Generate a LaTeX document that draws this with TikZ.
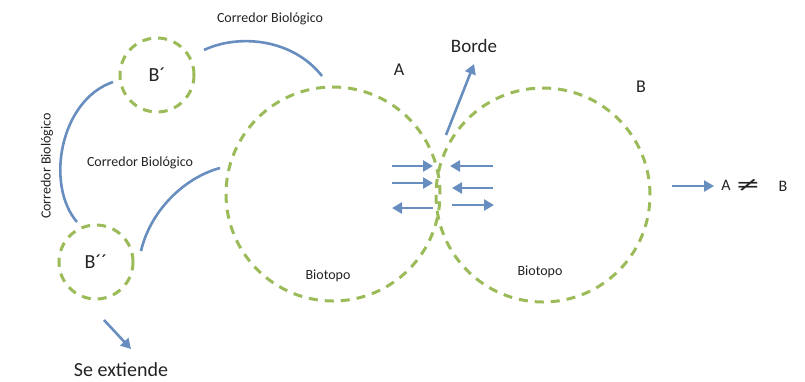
\documentclass[tikz,border=0pt]{standalone}
\usepackage{fontspec}
\usepackage{graphicx}
\setmainfont{Carlito}
\newfontfamily\symfont{DejaVu Sans}
\usetikzlibrary{arrows.meta}
\definecolor{habitat}{RGB}{155,187,89}
\definecolor{link}{RGB}{104,142,192}
\definecolor{ink}{RGB}{35,35,35}
\tikzset{
  habitat/.style={circle, draw=habitat, line width=3pt, dash pattern=on 9pt off 7pt, inner sep=0pt},
  corridor/.style={draw=link, line width=2.6pt},
  flow/.style={draw=link, line width=2.6pt, -{Triangle[length=10pt,width=11pt]}},
  small/.style={text=ink, font=\fontsize{14}{16}\selectfont},
  mid/.style={text=ink, font=\fontsize{18}{20}\selectfont},
  big/.style={text=ink, font=\fontsize{20}{22}\selectfont},
}
\begin{document}
\begin{tikzpicture}[x=1pt, y=-1pt]
\useasboundingbox (0,0) rectangle (805,381);

% habitats
\node[habitat, minimum size=214pt] (A) at (333,194) {};
\node[habitat, minimum size=214pt] (B) at (543,195) {};
\node[habitat, minimum size=74pt] (Bp) at (157,75) {};
\node[habitat, minimum size=74pt] (Bpp) at (96,262) {};

% habitat names
\node[big] (tBp) at (Bp) {B´};
\node[big] (tBpp) at (Bpp) {B´´};
\node[mid] (tA) at (399,70) {A};
\node[mid] (tB) at (641,87) {B};
\node[small] (bioA) at (328,276) {Biotopo};
\node[small] (bioB) at (540,272) {Biotopo};

% biological corridors
\coordinate (c1s) at (204,50);
\coordinate (c1e) at (322,76);
\coordinate (c2s) at (113,82);
\coordinate (c2e) at (77,222);
\coordinate (c3s) at (220,168);
\coordinate (c3e) at (141,251);
\draw[corridor] (c1s) .. controls (238,34) and (292,38) .. (c1e);
\draw[corridor] (c2s) .. controls (60,100) and (45,185) .. (c2e);
\draw[corridor] (c3s) .. controls (183,178) and (150,212) .. (c3e);
\node[small] (lc1) at (270,19) {Corredor Biológico};
\node[small] (lc2) at (140,163) {Corredor Biológico};
\node[small, rotate=90] (lc3) at (47,166) {Corredor Biológico};

% exchange across the border
\coordinate (l1a) at (392,166); \coordinate (l1b) at (433,166);
\coordinate (l2a) at (392,183); \coordinate (l2b) at (433,183);
\coordinate (l3a) at (433,208); \coordinate (l3b) at (392,208);
\coordinate (r1a) at (493,166); \coordinate (r1b) at (450,166);
\coordinate (r2a) at (493,188); \coordinate (r2b) at (452,188);
\coordinate (r3a) at (452,205); \coordinate (r3b) at (494,205);
\draw[flow] (l1a) -- (l1b);
\draw[flow] (l2a) -- (l2b);
\draw[flow] (l3a) -- (l3b);
\draw[flow] (r1a) -- (r1b);
\draw[flow] (r2a) -- (r2b);
\draw[flow] (r3a) -- (r3b);

% border
\node[big, font=\fontsize{19}{21}\selectfont] (borde) at (474,46) {Borde};
\coordinate (bs) at (446,135);
\coordinate (be) at (474,64);
\draw[flow] (bs) -- (be);

% expansion
\node[big] (ext) at (121,370) {Se extiende};
\coordinate (es) at (104,320);
\coordinate (ee) at (131,349);
\draw[flow] (es) -- (ee);

% difference between A and B
\coordinate (ds) at (672,186);
\coordinate (de) at (714,186);
\draw[flow] (ds) -- (de);
\node[mid, font=\fontsize{16}{18}\selectfont] (dA) at (726,185) {A};
\node[mid, font=\symfont\fontsize{20}{22}\selectfont] (dneq) at (748,185) {\scalebox{1.5}[1]{≠}};
\node[mid, font=\fontsize{16}{18}\selectfont] (dB) at (783,186) {B};
\end{tikzpicture}
\end{document}
